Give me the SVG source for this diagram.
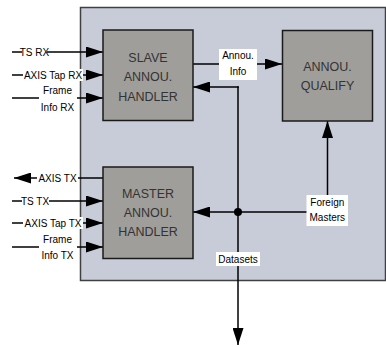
<svg xmlns="http://www.w3.org/2000/svg" width="386" height="347" viewBox="0 0 386 347">
<defs>
<marker id="ah" markerUnits="userSpaceOnUse" markerWidth="17" markerHeight="11" refX="17" refY="5.5" orient="auto">
<path d="M0,0 L17,5.5 L0,11 Z" fill="#000"/>
</marker>
<style>
.blk{fill:#a09e9b;stroke:#1a1a1a;stroke-width:1.5}
.bt{font-family:"Liberation Sans",Arial,sans-serif;font-size:12.5px;fill:#333;text-anchor:middle}
.lb{font-family:"Liberation Sans",Arial,sans-serif;font-size:10px;fill:#000;text-anchor:middle}
.ln{stroke:#000;stroke-width:1.5;fill:none}
.bg{fill:#fff}
</style>
</defs>
<rect x="80.5" y="7.5" width="305" height="273" fill="#c8ccd8" stroke="#404040" stroke-width="1.5"/>
<g id="connectors">
<line class="ln" x1="12" y1="52" x2="103" y2="52" marker-end="url(#ah)"/>
<line class="ln" x1="12" y1="75" x2="103" y2="75" marker-end="url(#ah)"/>
<line class="ln" x1="12" y1="98" x2="103" y2="98" marker-end="url(#ah)"/>
<line class="ln" x1="103" y1="178" x2="14" y2="178" marker-end="url(#ah)"/>
<line class="ln" x1="12" y1="201" x2="103" y2="201" marker-end="url(#ah)"/>
<line class="ln" x1="12" y1="223" x2="103" y2="223" marker-end="url(#ah)"/>
<line class="ln" x1="12" y1="247" x2="103" y2="247" marker-end="url(#ah)"/>
<line class="ln" x1="193" y1="64" x2="282" y2="64" marker-end="url(#ah)"/>
<polyline class="ln" points="238,88 238,87 193,87" marker-end="url(#ah)"/>
<line class="ln" x1="238" y1="86.25" x2="238" y2="345" marker-end="url(#ah)"/>
<polyline class="ln" points="327.5,212 327.5,121" marker-end="url(#ah)"/>
<line class="ln" x1="327.5" y1="212" x2="193" y2="212" marker-end="url(#ah)"/>
<circle cx="238" cy="212" r="4" fill="#000"/>
<rect class="bg" x="22" y="46" width="25" height="12"/>
<text class="lb" x="34.5" y="55.5">TS RX</text>
<rect class="bg" x="23" y="69" width="60" height="12"/>
<text class="lb" x="53" y="78.5">AXIS Tap RX</text>
<rect class="bg" x="39" y="83" width="38" height="31"/>
<text class="lb" x="57.5" y="93.5">Frame</text>
<text class="lb" x="57.5" y="110.5">Info RX</text>
<rect class="bg" x="37" y="172" width="41" height="12"/>
<text class="lb" x="57.5" y="181.5">AXIS TX</text>
<rect class="bg" x="22" y="195" width="27" height="12"/>
<text class="lb" x="35" y="204.5">TS TX</text>
<rect class="bg" x="23" y="217" width="60" height="12"/>
<text class="lb" x="53" y="226.5">AXIS Tap TX</text>
<rect class="bg" x="39" y="232" width="38" height="31"/>
<text class="lb" x="57.5" y="242.5">Frame</text>
<text class="lb" x="57.5" y="259">Info TX</text>
<rect class="bg" x="219" y="49" width="38" height="31"/>
<text class="lb" x="238" y="58.5">Annou.</text>
<text class="lb" x="238" y="75">Info</text>
<rect class="bg" x="306.5" y="195" width="41.5" height="31"/>
<text class="lb" x="327.3" y="206">Foreign</text>
<text class="lb" x="327.3" y="221">Masters</text>
<rect class="bg" x="216" y="252" width="44" height="14"/>
<text class="lb" x="238" y="262.5">Datasets</text>
</g>
<g id="slave">
<rect class="blk" x="103" y="30" width="90" height="90.5"/>
<text class="bt" x="148" y="61.5">SLAVE</text>
<text class="bt" x="148" y="80.5">ANNOU.</text>
<text class="bt" x="148" y="100.5">HANDLER</text>
</g>
<g id="qualify">
<rect class="blk" x="282.5" y="30.5" width="90" height="90.5"/>
<text class="bt" x="327.5" y="71">ANNOU.</text>
<text class="bt" x="327.5" y="89.5">QUALIFY</text>
</g>
<g id="master">
<rect class="blk" x="103" y="167" width="90" height="91.5"/>
<text class="bt" x="148" y="197.5">MASTER</text>
<text class="bt" x="148" y="216.5">ANNOU.</text>
<text class="bt" x="148" y="236">HANDLER</text>
</g>
</svg>
